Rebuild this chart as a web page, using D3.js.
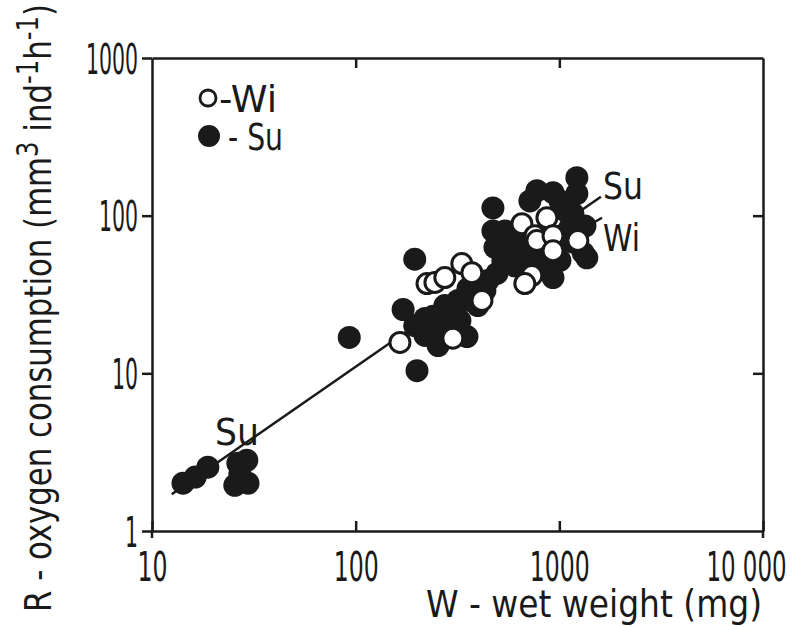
<!DOCTYPE html>
<html>
<head>
<meta charset="utf-8">
<script src="https://cdn.jsdelivr.net/npm/d3@7"></script>
<style>
  body { margin: 0; background: #fff; }
  text { font-family: "DejaVu Sans", sans-serif; font-stretch: condensed; fill: #1a1a1a; }
</style>
</head>
<body>
<div id="chart"></div>
<script>
// summer (filled) – wet weight W (mg), oxygen consumption R
const suW = [14.2, 16.3, 18.8, 26.4, 29.2, 25.5, 29.6, 27,
  93, 195, 171, 200, 352,
  195, 219, 237, 254, 281, 274, 318, 356, 398, 446, 300, 240, 219, 325, 364, 431, 307,
  472, 472, 483, 776, 931, 717, 1219, 1219, 1166, 1127, 1364, 1007, 931, 528,
  572, 641, 776, 869, 494, 1309, 1007, 700, 820, 1050, 600, 1170, 541, 605, 849, 1064, 1336];
const suR = [2.01, 2.2, 2.54, 2.69, 2.81, 1.95, 2.01, 2.3,
  16.9, 53, 25.4, 10.4, 17.1,
  20.1, 22.3, 18.2, 15, 20.1, 26.9, 29, 34.5, 26.9, 38.8, 24, 23, 17.4, 21.6, 29, 33.5, 25,
  112, 80, 63, 144, 140, 124, 174, 138, 103, 84, 54, 52, 40.5, 52,
  66.5, 57.4, 47, 52, 43, 58, 124, 60, 75, 70, 75, 68, 80, 48, 64.6, 108, 86];

// winter (open)
const wiW = [165, 224, 245, 274, 332, 372, 417, 300, 655, 869, 759, 776, 931, 931, 1233, 733, 677];
const wiR = [15.7, 37.1, 37.7, 40.5, 49.7, 43.5, 29, 16.7, 89, 97, 74.7, 69.5, 74.7, 60, 69.5, 41.7, 37.1];

// regression lines (end points)
const suLine = [[12.5, 1.71], [1600, 132]];
const wiLine = [[150, 16], [1620, 97]];

const xTicks = [10, 100, 1000, 10000];
const xTickLabels = ['10', '100', '1000', '10 000'];
const yTicks = [1, 10, 100, 1000];

const W = 798, H = 627;
const m = { left: 152, right: 35, top: 58, bottom: 96 };

const svg = d3.select('#chart').append('svg')
  .attr('width', W).attr('height', H);

const x = d3.scaleLog().domain([10, 10000]).range([m.left, W - m.right]);
const y = d3.scaleLog().domain([1, 1000]).range([H - m.bottom, m.top]);

const ink = '#1a1a1a';

// the original lettering is very narrow: fit digits to a fixed advance
function fitDigits(sel, digit, space) {
  sel.each(function () {
    const s = this.textContent;
    const n = s.replace(/ /g, '').length, sp = s.length - n;
    this.setAttribute('textLength', n * digit + sp * space);
    this.setAttribute('lengthAdjust', 'spacingAndGlyphs');
  });
}

function styleAxis(g, fs) {
  g.selectAll('path, line').attr('stroke', ink).attr('stroke-width', 2.5);
  g.selectAll('text').attr('font-size', fs).attr('fill', ink);
}

const xAxis = svg.append('g')
  .attr('transform', `translate(0,${y(1)})`)
  .call(d3.axisBottom(x).tickValues(xTicks)
    .tickFormat((d, i) => xTickLabels[i])
    .tickSizeInner(-10).tickSizeOuter(0).tickPadding(21));
styleAxis(xAxis, 40);
xAxis.selectAll('.tick text').attr('dy', '0.72em')
  .attr('dx', (d, i) => i === xTicks.length - 1 ? -17 : 0);
fitDigits(xAxis.selectAll('.tick text'), 15, 5);

const yAxis = svg.append('g')
  .attr('transform', `translate(${x(10)},0)`)
  .call(d3.axisLeft(y).tickValues(yTicks).tickFormat(d3.format('d'))
    .tickSizeInner(10).tickSizeOuter(0).tickPadding(4));
styleAxis(yAxis, 42);
yAxis.selectAll('.tick text').attr('dy', '0.36em');
fitDigits(yAxis.selectAll('.tick text'), 13, 5);

const topAxis = svg.append('g')
  .attr('transform', `translate(0,${y(1000)})`)
  .call(d3.axisTop(x).tickValues([100, 1000]).tickFormat('')
    .tickSizeInner(-10).tickSizeOuter(0));
styleAxis(topAxis, 10);

const rightAxis = svg.append('g')
  .attr('transform', `translate(${x(10000)},0)`)
  .call(d3.axisRight(y).tickValues([10, 100]).tickFormat('')
    .tickSizeInner(-10).tickSizeOuter(0));
styleAxis(rightAxis, 10);

// little stubs of the vertical frame below the x axis
[10, 10000].forEach(v => {
  svg.append('line')
    .attr('x1', x(v)).attr('x2', x(v))
    .attr('y1', y(1)).attr('y2', y(1) + 7)
    .attr('stroke', ink).attr('stroke-width', 2.5);
});

// regression lines
const line = d3.line().x(d => x(d[0])).y(d => y(d[1]));
[suLine, wiLine].forEach(l => {
  svg.append('path').datum(l)
    .attr('d', line)
    .attr('fill', 'none')
    .attr('stroke', ink)
    .attr('stroke-width', 2.5);
});

// points: summer filled first, winter open on top
const su = suW.map((w, i) => ({ w, r: suR[i] }));
const wi = wiW.map((w, i) => ({ w, r: wiR[i] }));

svg.append('g').selectAll('circle').data(su).join('circle')
  .attr('cx', d => x(d.w)).attr('cy', d => y(d.r))
  .attr('r', 11.5).attr('fill', ink);

svg.append('g').selectAll('circle').data(wi).join('circle')
  .attr('cx', d => x(d.w)).attr('cy', d => y(d.r))
  .attr('r', 10).attr('fill', '#fff')
  .attr('stroke', ink).attr('stroke-width', 3);

// line labels
const lbl = [
  { t: 'Su', w: 1640, r: 128, len: 40 },
  { t: 'Wi', w: 1640, r: 60, len: 37 },
  { t: 'Su', w: 20.4, r: 3.5, len: 44 }
];
svg.append('g').selectAll('text').data(lbl).join('text')
  .attr('x', d => x(d.w)).attr('y', d => y(d.r))
  .attr('font-size', 37)
  .attr('textLength', d => d.len).attr('lengthAdjust', 'spacingAndGlyphs')
  .text(d => d.t);

// legend
svg.append('circle').attr('cx', 208).attr('cy', 98).attr('r', 8)
  .attr('fill', '#fff').attr('stroke', ink).attr('stroke-width', 2.8);
svg.append('text').attr('x', 219).attr('y', 112).attr('font-size', 38)
  .attr('textLength', 58).attr('lengthAdjust', 'spacingAndGlyphs').text('-Wi');
svg.append('circle').attr('cx', 209).attr('cy', 136).attr('r', 11).attr('fill', ink);
svg.append('text').attr('x', 228).attr('y', 150).attr('font-size', 38)
  .attr('textLength', 55).attr('lengthAdjust', 'spacingAndGlyphs').text('- Su');

// axis titles
svg.append('text')
  .attr('x', 426).attr('y', 617)
  .attr('font-size', 37)
  .attr('textLength', 336).attr('lengthAdjust', 'spacingAndGlyphs')
  .text('W - wet weight (mg)');

const yt = svg.append('text')
  .attr('transform', 'translate(51,612) rotate(-90)')
  .attr('font-size', 38)
  .attr('textLength', 608).attr('lengthAdjust', 'spacingAndGlyphs');
yt.append('tspan').text('R - oxygen consumption (mm');
yt.append('tspan').attr('dy', -13).attr('font-size', 30).text('3');
yt.append('tspan').attr('dy', 13).text(' ind');
yt.append('tspan').attr('dy', -13).attr('font-size', 30).text('-1');
yt.append('tspan').attr('dy', 13).text('h');
yt.append('tspan').attr('dy', -13).attr('font-size', 30).text('-1');
yt.append('tspan').attr('dy', 13).text(')');
</script>
</body>
</html>
